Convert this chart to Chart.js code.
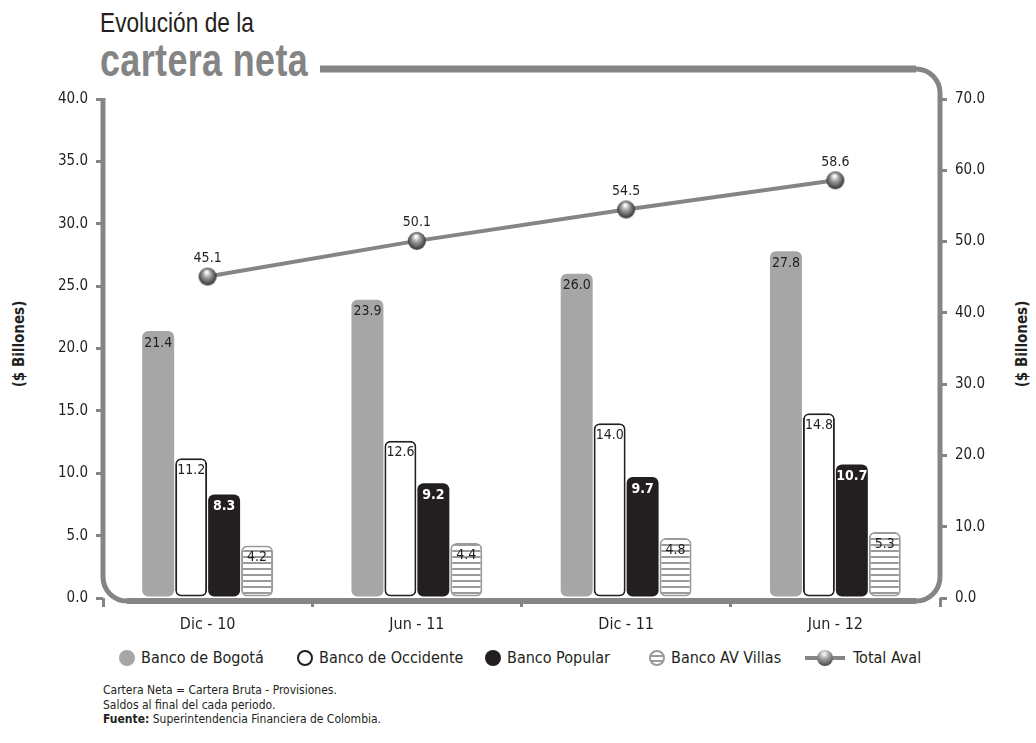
<!DOCTYPE html>
<html>
<head>
<meta charset="utf-8">
<script src="https://cdn.jsdelivr.net/npm/chart.js@4.4.1/dist/chart.umd.min.js"></script>
<style>
body { margin:0; width:1036px; height:743px; position:relative; background:#fff; overflow:hidden;
  font-family:"Liberation Sans Narrow","Arial Narrow","DejaVu Sans Condensed",sans-serif; color:#231f20; }
#wrap { position:absolute; left:0; top:0; width:1036px; height:640px; }
.t1 { position:absolute; left:100px; top:7px; font-family:"Liberation Sans",sans-serif; font-size:28px;
  transform:scaleX(0.81); transform-origin:left top; }
.t2 { position:absolute; left:100px; top:33px; font-family:"Liberation Sans",sans-serif; font-size:46px; font-weight:bold;
  color:#848484; transform:scaleX(0.78); transform-origin:left top; letter-spacing:0.5px; }
.ytitle { position:absolute; top:344px; font-size:15px; font-weight:bold; white-space:nowrap;
  transform: translate(-50%,-50%) rotate(-90deg); }
.leg { position:absolute; top:649px; font-size:16px; line-height:18px; white-space:nowrap; }
.leg i { display:inline-block; width:16px; height:16px; border-radius:50%; vertical-align:-3px; margin-right:6px; box-sizing:border-box; }
.note { position:absolute; left:103px; top:683px; font-size:12px; line-height:14.5px; }
</style>
</head>
<body>
<div class="t1">Evolución de la</div>
<div class="t2">cartera neta</div>
<div class="ytitle" style="left:19px">($ Billones)</div>
<div class="ytitle" style="left:1022px">($ Billones)</div>
<div id="wrap"><canvas id="chart" width="1036" height="640"></canvas></div>

<div class="leg" style="left:119px"><i style="background:#a6a6a6"></i>Banco de Bogotá</div>
<div class="leg" style="left:297px"><i style="border:2px solid #231f20"></i>Banco de Occidente</div>
<div class="leg" style="left:485px"><i style="background:#231f20"></i>Banco Popular</div>
<div class="leg" style="left:649px"><i style="border:2px solid #9a9a9a;background:repeating-linear-gradient(#fff 0 3px,#9a9a9a 3px 5px)"></i>Banco AV Villas</div>
<div class="leg" style="left:805px"><span style="display:inline-block;position:relative;width:40px;height:16px;vertical-align:-3px;margin-right:8px">
  <span style="position:absolute;left:0;top:6px;width:40px;height:4px;background:#858585"></span>
  <span style="position:absolute;left:12px;top:0;width:16px;height:16px;border-radius:50%;background:radial-gradient(circle at 45% 25%,#fff 0,#a0a0a0 35%,#4a4a4a 80%,#222 100%)"></span>
</span>Total Aval</div>

<div class="note">Cartera Neta = Cartera Bruta - Provisiones.<br>Saldos al final del cada periodo.<br><b>Fuente:</b> Superintendencia Financiera de Colombia.</div>

<script>
var FONT = '"Liberation Sans Narrow","Arial Narrow","DejaVu Sans Condensed",sans-serif';

var periods = ['Dic - 10', 'Jun - 11', 'Dic - 11', 'Jun - 12'];
var bogota = [21.4, 23.9, 26.0, 27.8];
var occidente = [11.2, 12.6, 14.0, 14.8];
var popular = [8.3, 9.2, 9.7, 10.7];
var avVillas = [4.2, 4.4, 4.8, 5.3];
var totalAval = [45.1, 50.1, 54.5, 58.6];

var leftMax = 40, leftStep = 5;
var rightMax = 70, rightStep = 10;

function stripes() {
  var c = document.createElement('canvas');
  c.width = 8; c.height = 6;
  var x = c.getContext('2d');
  x.fillStyle = '#fff'; x.fillRect(0, 0, 8, 6);
  x.fillStyle = '#9a9a9a'; x.fillRect(0, 4, 8, 2);
  return x.createPattern(c, 'repeat');
}

function sphere(r) {
  var c = document.createElement('canvas');
  c.width = c.height = 2 * r + 2;
  var x = c.getContext('2d');
  var g = x.createRadialGradient(r + 1 - r * 0.1, r + 1 - r * 0.5, r * 0.1, r + 1, r + 1, r + 1);
  g.addColorStop(0, '#ffffff');
  g.addColorStop(0.35, '#a0a0a0');
  g.addColorStop(0.8, '#4a4a4a');
  g.addColorStop(1, '#222');
  x.fillStyle = g;
  x.beginPath(); x.arc(r + 1, r + 1, r, 0, Math.PI * 2); x.fill();
  return c;
}

var framePlugin = {
  id: 'frame',
  beforeDatasetsDraw: function(chart) {
    var a = chart.chartArea, ctx = chart.ctx;
    var top = a.top - 30, bottom = a.bottom + 3, left = a.left, right = a.right, r = 24;
    ctx.save();
    ctx.strokeStyle = '#858585';
    ctx.lineWidth = 5;
    ctx.beginPath();
    ctx.moveTo(left + 217, top);
    ctx.lineTo(right - r, top);
    ctx.arcTo(right, top, right, top + r, r);
    ctx.lineTo(right, bottom - r);
    ctx.arcTo(right, bottom, right - r, bottom, r);
    ctx.lineTo(left + r, bottom);
    ctx.arcTo(left, bottom, left, bottom - r, r);
    ctx.lineTo(left, a.top - 1);
    ctx.stroke();
    ctx.lineWidth = 7;
    ctx.beginPath();
    ctx.moveTo(left + 217, top);
    ctx.lineTo(right - r, top);
    ctx.stroke();
    ctx.lineWidth = 6;
    ctx.beginPath();
    ctx.moveTo(right - r, bottom);
    ctx.lineTo(left + r, bottom);
    ctx.stroke();
    ctx.restore();
  }
};

var labelPlugin = {
  id: 'valueLabels',
  afterDatasetsDraw: function(chart) {
    var ctx = chart.ctx;
    chart.data.datasets.forEach(function(ds, i) {
      var meta = chart.getDatasetMeta(i);
      meta.data.forEach(function(el, j) {
        var v = ds.data[j].toFixed(1);
        ctx.save();
        ctx.textAlign = 'center';
        if (ds.type === 'line') {
          ctx.font = '14px ' + FONT;
          ctx.fillStyle = '#231f20';
          ctx.textBaseline = 'bottom';
          ctx.fillText(v, el.x, el.y - 11);
        } else {
          ctx.font = (ds.labelBold ? 'bold ' : '') + '14px ' + FONT;
          ctx.fillStyle = ds.labelColor;
          ctx.textBaseline = 'top';
          ctx.fillText(v, el.x, el.y + 5);
        }
        ctx.restore();
      });
    });
  }
};

var barCommon = { type: 'bar', yAxisID: 'y', order: 1, borderRadius: 6, borderSkipped: false,
  categoryPercentage: 0.63, barPercentage: 0.97 };

var ctx = document.getElementById('chart').getContext('2d');
var myChart = new Chart(ctx, {
  data: {
    labels: periods,
    datasets: [
      Object.assign({}, barCommon, { label: 'Banco de Bogotá', data: bogota, backgroundColor: '#a6a6a6', borderWidth: 0, labelColor: '#231f20' }),
      Object.assign({}, barCommon, { label: 'Banco de Occidente', data: occidente, backgroundColor: '#fff', borderColor: '#231f20', borderWidth: 2, labelColor: '#231f20' }),
      Object.assign({}, barCommon, { label: 'Banco Popular', data: popular, backgroundColor: '#231f20', borderWidth: 0, labelColor: '#fff', labelBold: true }),
      Object.assign({}, barCommon, { label: 'Banco AV Villas', data: avVillas, backgroundColor: stripes(), borderColor: '#9a9a9a', borderWidth: 2, labelColor: '#231f20' }),
      { type: 'line', label: 'Total Aval', data: totalAval, yAxisID: 'y2', order: 0,
        borderColor: '#858585', borderWidth: 4, pointStyle: sphere(9), pointRadius: 9 }
    ]
  },
  options: {
    responsive: false,
    animation: false,
    layout: { padding: { top: 99, left: 0, right: 0, bottom: 0 } },
    plugins: { legend: { display: false }, tooltip: { enabled: false } },
    scales: {
      x: {
        grid: { offset: true, drawOnChartArea: false, color: '#858585', lineWidth: 3, tickLength: 9 },
        border: { display: false },
        ticks: { color: '#231f20', font: { size: 16, family: FONT }, padding: 8 },
        afterFit: function(s) { s.height = 42; }
      },
      y: {
        position: 'left', min: 0, max: leftMax,
        ticks: { stepSize: leftStep, color: '#231f20', font: { size: 15, family: FONT }, padding: 8,
          callback: function(v) { return v.toFixed(1); } },
        grid: { drawOnChartArea: false, color: '#858585', lineWidth: 3, tickLength: 7 },
        border: { display: false },
        afterFit: function(s) { s.width = 103; }
      },
      y2: {
        position: 'right', min: 0, max: rightMax,
        ticks: { stepSize: rightStep, color: '#231f20', font: { size: 15, family: FONT }, padding: 8,
          callback: function(v) { return v.toFixed(1); } },
        grid: { drawOnChartArea: false, color: '#858585', lineWidth: 3, tickLength: 7 },
        border: { display: false },
        afterFit: function(s) { s.width = 96; }
      }
    }
  },
  plugins: [framePlugin, labelPlugin]
});
</script>
</body>
</html>
